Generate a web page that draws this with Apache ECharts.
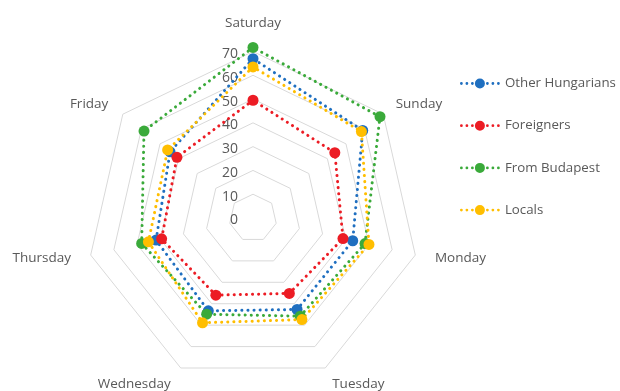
<!DOCTYPE html>
<html>
<head>
<meta charset="utf-8">
<script src="https://cdn.jsdelivr.net/npm/echarts@6/dist/echarts.min.js"></script>
<style>
  html, body { margin: 0; padding: 0; background: #fff; }
  #chart { width: 620px; height: 391px; }
</style>
</head>
<body>
<div id="chart"></div>
<script>
// Days in clockwise order, starting at the top
const days = ['Saturday', 'Sunday', 'Monday', 'Tuesday', 'Wednesday', 'Thursday', 'Friday'];
const seriesNames = ['Other Hungarians', 'Foreigners', 'From Budapest', 'Locals'];
const otherHungarians = [67, 59, 43, 42.7, 43.3, 41.8, 44.6];
const foreigners      = [49.5, 44, 38.8, 35.2, 36, 39.4, 40.9];
const fromBudapest    = [71.7, 68.3, 48.3, 45.8, 44.9, 48, 58.6];
const locals          = [63.5, 58.3, 50, 47.4, 48.9, 45.1, 45.9];
const axisTicks = [0, 10, 20, 30, 40, 50, 60, 70];

const colors = ['#1f6fc0', '#ec1c24', '#3aaa3a', '#ffbe00'];
const FONT = '"Open Sans", "Noto Sans", sans-serif';
const TEXT = '#595959';

// ECharts lays radar indicators out counter-clockwise; walk the days backwards
const order = [0, 6, 5, 4, 3, 2, 1];
const pick = arr => order.map(i => arr[i]);

const indicator = order.map((i, k) => {
  const ind = { name: days[i], min: axisTicks[0], max: axisTicks[axisTicks.length - 1] };
  if (k === 0) {
    // value scale drawn once, beside the top spoke
    ind.axisLabel = {
      show: true, margin: 15,
      formatter: v => '{v|' + v + '}',
      rich: { v: { color: TEXT, fontSize: 14, fontFamily: FONT, padding: [5, 0, 0, 0] } }
    };
  }
  return ind;
});

// Small per-day nudges of the category names
const nameStyle = { color: TEXT, fontSize: 13.5, fontFamily: FONT };
const namePadding = {
  Saturday:  [0, 0, 5, 0],
  Sunday:    [0, 0, 0, 0],
  Monday:    [0, 0, 0, 4],
  Tuesday:   [3, 0, 0, 0],
  Wednesday: [3, 3, 0, 0],
  Thursday:  [0, 4, 0, 0],
  Friday:    [0, 2, 0, 0]
};
const rich = {};
days.forEach((d, i) => { rich['d' + i] = Object.assign({ padding: namePadding[d] }, nameStyle); });

// Legend glyph: dotted line with a round marker in the middle (40 x 10 box)
function dot(cx, cy, r) {
  return 'M' + (cx - r) + ' ' + cy + ' A' + r + ' ' + r + ' 0 1 0 ' + (cx + r) + ' ' + cy +
         ' A' + r + ' ' + r + ' 0 1 0 ' + (cx - r) + ' ' + cy + ' Z ';
}
const legendIcon = 'path://' + [1.5, 7, 12.5].map(x => dot(x, 5, 1.4)).join('') +
  dot(20, 5, 5) + [27.5, 33, 38.5].map(x => dot(x, 5, 1.4)).join('');

const values = [otherHungarians, foreigners, fromBudapest, locals];

const option = {
  animation: false,
  color: colors,
  legend: {
    orient: 'vertical',
    left: 455,
    top: 72,
    itemWidth: 40,
    itemHeight: 10,
    itemGap: 29.2,
    icon: legendIcon,
    textStyle: { color: TEXT, fontSize: 13.3, fontFamily: FONT },
    data: seriesNames
  },
  radar: {
    center: [253, 218],
    radius: 166.5,
    startAngle: 90,
    splitNumber: 7,
    shape: 'polygon',
    indicator: indicator,
    nameGap: 16,
    axisName: Object.assign({
      formatter: name => '{d' + days.indexOf(name) + '|' + name + '}',
      rich: rich
    }, nameStyle),
    axisLine: { show: false },
    axisTick: { show: false },
    axisLabel: { show: false },
    splitLine: { lineStyle: { color: '#d9d9d9', width: 1 } },
    splitArea: { show: false }
  },
  series: [{
    type: 'radar',
    symbol: 'circle',
    symbolSize: 11,
    data: seriesNames.map((name, s) => ({
      name: name,
      value: pick(values[s]),
      itemStyle: { color: colors[s] },
      lineStyle: { color: colors[s], width: 3, type: [0.1, 6], cap: 'round' }
    }))
  }]
};

const chart = echarts.init(document.getElementById('chart'), null, { renderer: 'canvas' });
chart.setOption(option);
</script>
</body>
</html>
